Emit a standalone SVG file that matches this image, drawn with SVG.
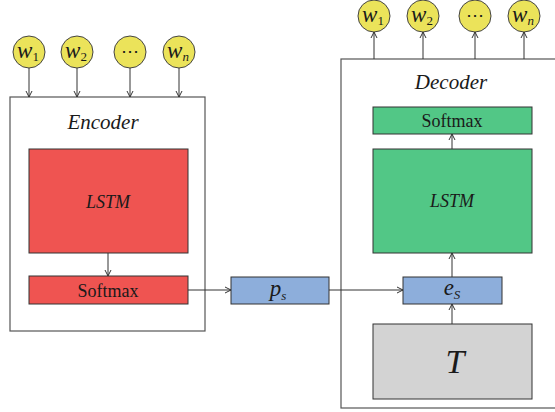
<svg xmlns="http://www.w3.org/2000/svg" width="555" height="412" viewBox="0 0 555 412" font-family="Liberation Serif, serif">
  <style>
    .frame { fill: #ffffff; stroke: #555555; stroke-width: 1.2; }
    .red { fill: #ef5451; stroke: #333333; stroke-width: 1; }
    .green { fill: #52c786; stroke: #333333; stroke-width: 1; }
    .blue { fill: #8daedb; stroke: #333333; stroke-width: 1; }
    .gray { fill: #d3d3d3; stroke: #333333; stroke-width: 1; }
    .word { fill: #ebe35a; stroke: #444444; stroke-width: 1; }
    .conn { stroke: #333333; stroke-width: 1; fill: none; marker-end: url(#arr); }
    text { fill: #1a1a1a; text-anchor: middle; }
    .it { font-style: italic; }
    .title { font-size: 21px; font-style: italic; }
    .lbl { font-size: 18px; }
    .w { font-size: 23px; font-style: italic; }
    .sub { font-size: 13px; font-style: normal; }
    .subi { font-size: 13px; font-style: italic; }
  </style>
  <defs>
    <marker id="arr" viewBox="0 0 8 8" refX="7" refY="4" markerWidth="8" markerHeight="8" markerUnits="userSpaceOnUse" orient="auto">
      <path d="M1,1 L7,4 L1,7" fill="none" stroke="#333333" stroke-width="1"/>
    </marker>
  </defs>

  <!-- encoder frame -->
  <g id="encoder">
    <rect class="frame" x="10" y="97" width="195" height="234"/>
    <text class="title" x="103" y="129">Encoder</text>
  </g>
  <!-- decoder frame -->
  <g id="decoder">
    <rect class="frame" x="341" y="59" width="220" height="349"/>
    <text class="title" x="451" y="89">Decoder</text>
  </g>

  <!-- encoder input words -->
  <g id="enc-w1"><circle class="word" cx="29" cy="52" r="16"/><text class="w" x="28" y="58">w<tspan class="sub" dy="3">1</tspan></text></g>
  <g id="enc-w2"><circle class="word" cx="77" cy="52" r="16"/><text class="w" x="76" y="58">w<tspan class="sub" dy="3">2</tspan></text></g>
  <g id="enc-wdots"><circle class="word" cx="130" cy="52" r="16"/><text class="lbl" x="130" y="57">⋯</text></g>
  <g id="enc-wn"><circle class="word" cx="179" cy="52" r="16"/><text class="w" x="178" y="58">w<tspan class="subi" dy="3">n</tspan></text></g>

  <!-- decoder output words -->
  <g id="dec-w1"><circle class="word" cx="374" cy="16" r="16"/><text class="w" x="373" y="22">w<tspan class="sub" dy="3">1</tspan></text></g>
  <g id="dec-w2"><circle class="word" cx="423" cy="16" r="16"/><text class="w" x="422" y="22">w<tspan class="sub" dy="3">2</tspan></text></g>
  <g id="dec-wdots"><circle class="word" cx="475" cy="16" r="16"/><text class="lbl" x="475" y="21">⋯</text></g>
  <g id="dec-wn"><circle class="word" cx="524" cy="16" r="16"/><text class="w" x="523" y="22">w<tspan class="subi" dy="3">n</tspan></text></g>

  <!-- encoder blocks -->
  <g id="enc-lstm">
    <rect class="red" x="29" y="149" width="159" height="104"/>
    <text class="lbl it" x="108" y="208">LSTM</text>
  </g>
  <g id="enc-softmax">
    <rect class="red" x="29" y="276" width="159" height="28"/>
    <text class="lbl" x="108" y="297">Softmax</text>
  </g>

  <!-- sentence vector -->
  <g id="ps">
    <rect class="blue" x="231" y="277" width="98" height="27"/>
    <text class="w" x="278" y="296">p<tspan class="subi" dy="4">s</tspan></text>
  </g>

  <!-- decoder blocks -->
  <g id="dec-softmax">
    <rect class="green" x="373" y="107" width="159" height="27"/>
    <text class="lbl" x="452" y="127">Softmax</text>
  </g>
  <g id="dec-lstm">
    <rect class="green" x="373" y="149" width="159" height="104"/>
    <text class="lbl it" x="452" y="207">LSTM</text>
  </g>
  <g id="es">
    <rect class="blue" x="403" y="277" width="99" height="27"/>
    <text class="w" x="452" y="295">e<tspan class="subi" dy="4">S</tspan></text>
  </g>
  <g id="t">
    <rect class="gray" x="373" y="324" width="159" height="75"/>
    <text class="it" font-size="34" x="455" y="373">T</text>
  </g>

  <!-- connectors -->
  <g id="connectors">
    <line class="conn" x1="29" y1="68" x2="29" y2="97"/>
    <line class="conn" x1="77" y1="68" x2="77" y2="97"/>
    <line class="conn" x1="130" y1="68" x2="130" y2="97"/>
    <line class="conn" x1="179" y1="68" x2="179" y2="97"/>
    <line class="conn" x1="374" y1="59" x2="374" y2="32"/>
    <line class="conn" x1="423" y1="59" x2="423" y2="32"/>
    <line class="conn" x1="475" y1="59" x2="475" y2="32"/>
    <line class="conn" x1="524" y1="59" x2="524" y2="32"/>
    <line class="conn" x1="108" y1="253" x2="108" y2="276"/>
    <line class="conn" x1="188" y1="290" x2="231" y2="290"/>
    <line class="conn" x1="329" y1="290" x2="403" y2="290"/>
    <line class="conn" x1="452" y1="324" x2="452" y2="304"/>
    <line class="conn" x1="452" y1="277" x2="452" y2="253"/>
    <line class="conn" x1="452" y1="149" x2="452" y2="134"/>
  </g>
</svg>
